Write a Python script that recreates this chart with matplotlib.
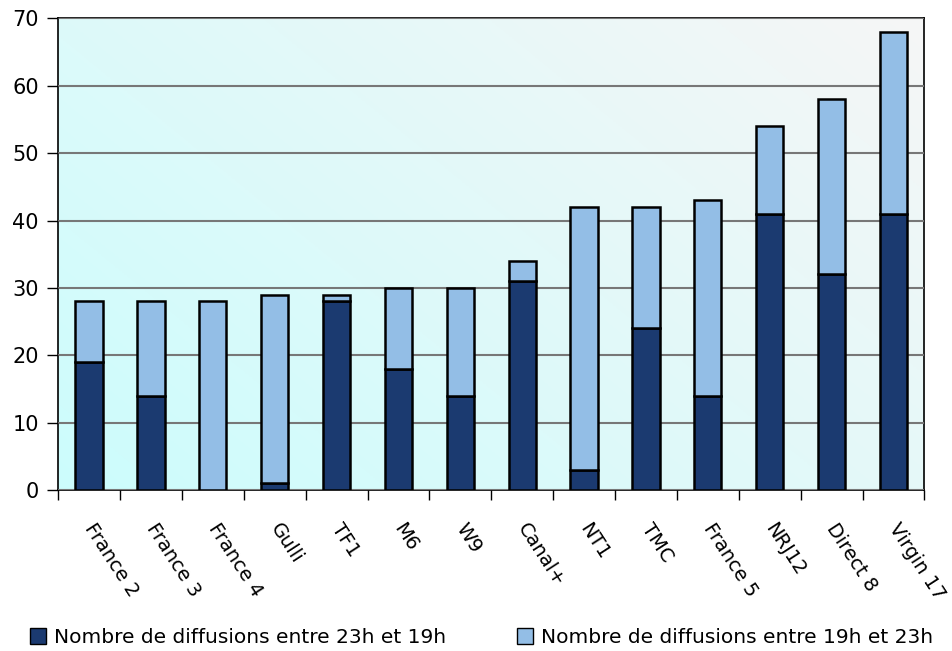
import numpy as np
import matplotlib
matplotlib.use('Agg')
import matplotlib.pyplot as plt
from matplotlib.patches import Patch

# data
chaines = ['France 2', 'France 3', 'France 4', 'Gulli', 'TF1', 'M6', 'W9', 'Canal+',
           'NT1', 'TMC', 'France 5', 'NRJ12', 'Direct 8', 'Virgin 17']
nuit = [19, 14, 0, 1, 28, 18, 14, 31, 3, 24, 14, 41, 32, 41]      # entre 23h et 19h
soiree = [9, 14, 28, 28, 1, 12, 16, 3, 39, 18, 29, 13, 26, 27]    # entre 19h et 23h
labels = ['Nombre de diffusions entre 23h et 19h', 'Nombre de diffusions entre 19h et 23h']

plt.rcParams['font.family'] = ['DejaVu Sans']

fig = plt.figure(figsize=(9.53, 6.51), dpi=100)
ax = fig.add_axes([0.061, 0.247, 0.909, 0.725])

# background gradient: cyan bottom-left -> light grey top-right
n = 200
xx, yy = np.meshgrid(np.linspace(0, 1, n), np.linspace(0, 1, n))
t = (xx * 0.6 + yy * 0.4)
c0 = np.array([0.80, 0.99, 0.99])
c1 = np.array([0.965, 0.965, 0.965])
grad = c0[None, None, :] * (1 - t[..., None]) + c1[None, None, :] * t[..., None]
ax.imshow(grad, extent=[-0.5, len(chaines) - 0.5, 0, 70], origin='lower',
          aspect='auto', zorder=0)

x = np.arange(len(chaines))
w = 0.44
ax.bar(x, nuit, w, color='#1b3a70', edgecolor='black', linewidth=1.8, zorder=3)
ax.bar(x, soiree, w, bottom=nuit, color='#93bee6', edgecolor='black', linewidth=1.8, zorder=3)

ax.set_xlim(-0.5, len(chaines) - 0.5)
ax.set_ylim(0, 70)
ax.set_yticks(range(0, 71, 10))
ax.tick_params(axis='y', labelsize=15, length=8, width=1, pad=6)
ax.yaxis.grid(True, color='#777777', linewidth=1.5, zorder=1)
ax.set_axisbelow(False)

ax.set_xticks(np.arange(len(chaines) + 1) - 0.5)
ax.set_xticklabels([])
ax.tick_params(axis='x', length=7, width=1)
for i, nom in enumerate(chaines):
    ax.text(i + 0.12, -4.4, nom, rotation=-57, ha='left', va='top',
            rotation_mode='anchor', fontsize=14)

for s in ax.spines.values():
    s.set_linewidth(1.2)

handles = [Patch(facecolor='#1b3a70', edgecolor='black'),
           Patch(facecolor='#93bee6', edgecolor='black')]
fig.legend(handles, labels, loc='lower center', ncol=2, frameon=False,
           fontsize=14.5, bbox_to_anchor=(0.505, -0.022), columnspacing=3.5,
           handlelength=0.8, handleheight=0.8, handletextpad=0.4)

fig.savefig('out.png', dpi=100)
